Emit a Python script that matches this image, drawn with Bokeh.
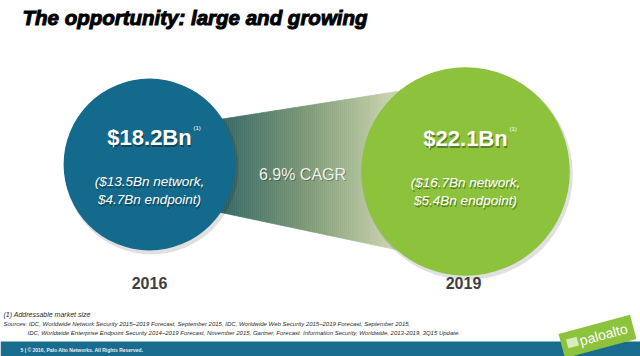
from bokeh.plotting import figure
from bokeh.models import Range1d
from bokeh.core.properties import value
from bokeh.embed import file_html
from bokeh.resources import INLINE
import math

# ---- data ----
years = ["2016", "2019"]
totals = [18.2, 22.1]          # $Bn addressable market
network = [13.5, 16.7]
endpoint = [4.7, 5.4]
cagr = 6.9

title = "The opportunity: large and growing"
footnote = "(1) Addressable market size"
sources1 = ("Sources: IDC, Worldwide Network Security 2015\u20132019 Forecast, September 2015, "
            "IDC, Worldwide Web Security 2015\u20132019 Forecast, September 2015,")
sources2 = ("IDC, Worldwide Enterprise Endpoint Security 2014\u20132019 Forecast, November 2015, "
            "Gartner, Forecast: Information Security, Worldwide, 2013-2019, 3Q15 Update.")
footer = "5  |  \u00a9 2016, Palo Alto Networks. All Rights Reserved."

# ---- layout / style ----
W, H = 640, 356
cx = [149, 465]
cy = [164, 171]
scale = 4.72                       # px of radius per $Bn
radii = [v * scale for v in totals]
fills = ["#146a8c", "#8cc23c"]
FONT = value("Liberation Sans")

p = figure(width=W, height=H, x_range=Range1d(0, W), y_range=Range1d(H, 0),
           output_backend="svg", toolbar_location=None, min_border=0)
p.axis.visible = False
p.grid.visible = False
p.outline_line_color = None
p.background_fill_color = "white"
p.border_fill_color = "white"

# ---- cone with gradient (strips) ----
def top_y(x):
    return 118 + (x - 225) * (92 - 118) / (390 - 225)

def bot_y(x):
    return 213 + (x - 225) * (248 - 213) / (390 - 225)

stops = [(225, (58, 105, 102)), (305, (124, 152, 118)), (390, (200, 210, 172))]

def col(x):
    if x <= stops[0][0]:
        c = stops[0][1]
    elif x >= stops[-1][0]:
        c = stops[-1][1]
    else:
        for (xa, ca), (xb, cb) in zip(stops[:-1], stops[1:]):
            if xa <= x <= xb:
                t = (x - xa) / (xb - xa)
                c = tuple(int(round(a + (b - a) * t)) for a, b in zip(ca, cb))
                break
    return "#%02x%02x%02x" % c

xs, ys, cs = [], [], []
x = cx[0]
step = 2
while x < cx[1]:
    x1 = x + step
    xs.append([x, x1, x1, x])
    ys.append([top_y(x), top_y(x1), bot_y(x1), bot_y(x)])
    cs.append(col(x + step / 2))
    x = x1
p.patches(xs, ys, fill_color=cs, line_color=cs, line_width=0.6)

# ---- circles with soft shadow ----
for i in range(2):
    p.circle(x=cx[i] + 2, y=cy[i] + 3, radius=radii[i] + 1, fill_color="#000000",
             fill_alpha=0.12, line_color=None)
p.circle(x=cx, y=cy, radius=radii, fill_color=fills, line_color=None)

# ---- circle texts ----
for i in range(2):
    big = "$%.1fBn" % totals[i]
    l1 = "($%.1fBn network," % network[i]
    l2 = "$%.1fBn endpoint)" % endpoint[i]
    ty = cy[i] - 27 if i == 0 else cy[i] - 33
    for dx, dy, c, a in [(1, 1.5, "#000000", 0.35), (0, 0, "#ffffff", 1.0)]:
        p.text(x=[cx[i] + dx], y=[ty + dy], text=[big], text_font=FONT,
               text_font_style="bold", text_font_size="22px", text_color=c, text_alpha=a,
               text_align="center", text_baseline="middle")
        p.text(x=[cx[i] + dx], y=[ty + 44 + dy], text=[l1], text_font=FONT,
               text_font_style="italic", text_font_size="13.5px", text_color=c, text_alpha=a,
               text_align="center", text_baseline="middle")
        p.text(x=[cx[i] + dx], y=[ty + 62 + dy], text=[l2], text_font=FONT,
               text_font_style="italic", text_font_size="13.5px", text_color=c, text_alpha=a,
               text_align="center", text_baseline="middle")
    p.text(x=[cx[i] + 44], y=[ty - 10], text=["(1)"], text_font=FONT,
           text_font_size="6px", text_color="white", text_align="left", text_baseline="middle")

# CAGR label
p.text(x=[302 + 1], y=[174 + 1], text=["%.1f%% CAGR" % cagr], text_font=FONT,
       text_font_size="16px", text_color="#000000", text_alpha=0.3,
       text_align="center", text_baseline="middle")
p.text(x=[302], y=[174], text=["%.1f%% CAGR" % cagr], text_font=FONT,
       text_font_size="16px", text_color="#eef2ea",
       text_align="center", text_baseline="middle")

# year labels
p.text(x=[cx[0], cx[1] - 2], y=[282, 282], text=years, text_font=FONT,
       text_font_style="bold", text_font_size="16px", text_color="#404040",
       text_align="center", text_baseline="middle")

# ---- title ----
p.text(x=[22], y=[17], text=[title], text_font=FONT, text_font_style="bold italic",
       text_font_size="20.5px", text_color="black", text_outline_color="black",
       text_align="left", text_baseline="middle")

# ---- footnotes ----
p.text(x=[3], y=[314], text=[footnote], text_font=FONT, text_font_style="italic",
       text_font_size="7px", text_color="#2a2a2a", text_baseline="middle")
p.text(x=[3], y=[323.5], text=[sources1], text_font=FONT, text_font_style="italic",
       text_font_size="6px", text_color="#2a2a2a", text_baseline="middle")
p.text(x=[27], y=[332.5], text=[sources2], text_font=FONT, text_font_style="italic",
       text_font_size="6px", text_color="#2a2a2a", text_baseline="middle")

# ---- footer band ----
p.quad(left=[0], right=[W], top=[341], bottom=[H], fill_color="#1a6c8e", line_color=None)
p.text(x=[20], y=[349.5], text=[footer], text_font=FONT, text_font_style="bold",
       text_font_size="5px", text_color="#e8eef2", text_baseline="middle")

# ---- logo ----
ang = math.radians(15)
p.rect(x=[597], y=[336], width=[74], height=[25], angle=[ang], fill_color="#8cc23c",
       line_color=None)
p.rect(x=[572], y=[342], width=[11], height=[9], angle=[ang], fill_color="#d8ecb8",
       line_color=None)
p.text(x=[603], y=[334], text=["paloalto"], text_font=FONT, text_font_size="14px",
       text_color="white", angle=[ang], text_align="center", text_baseline="middle")

open("out.html", "w").write(file_html(p, INLINE))
